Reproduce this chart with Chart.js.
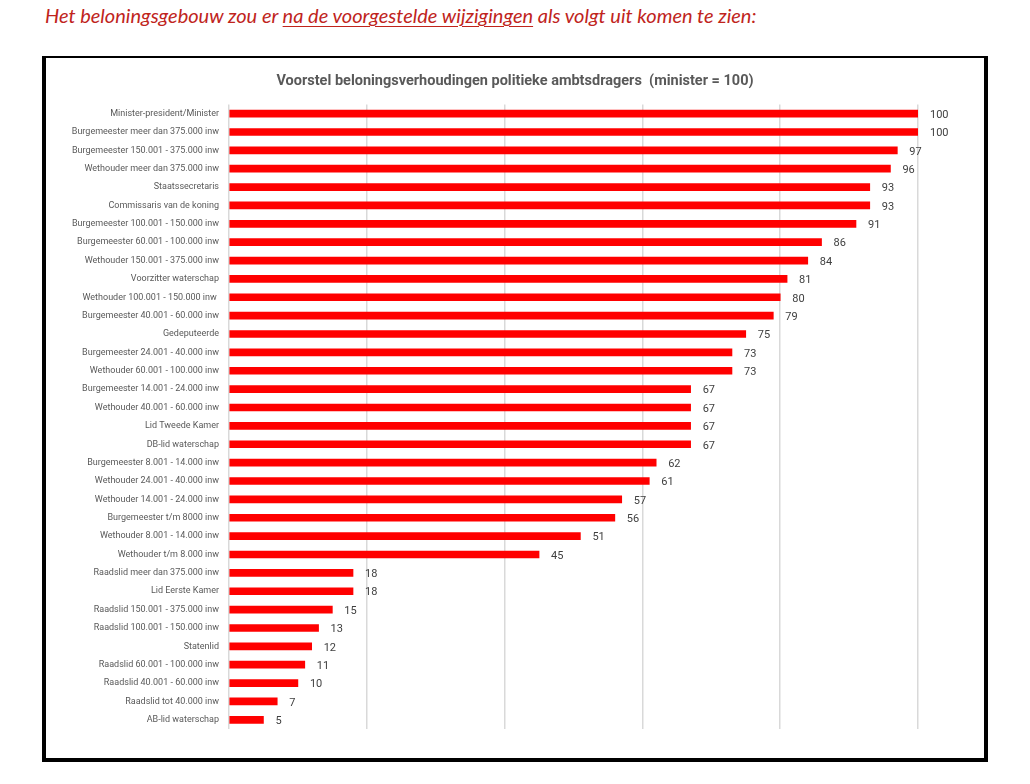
<!DOCTYPE html>
<html>
<head>
<meta charset="utf-8">
<script src="https://cdn.jsdelivr.net/npm/chart.js@4/dist/chart.umd.min.js"></script>
<style>
    html, body { margin: 0; padding: 0; background: #fff; }
    body { width: 1030px; height: 784px; position: relative; overflow: hidden; }
    #intro {
        position: absolute; left: 45px; top: 3px;
        font-family: Lato, sans-serif; font-style: italic; font-size: 20px;
        color: #c0241c; white-space: nowrap;
    }
    #intro u { text-decoration-thickness: 1px; text-underline-offset: 3px; }
    #frame {
        position: absolute; left: 42px; top: 56px; width: 946px; height: 706px;
        box-sizing: border-box; border: solid #000;
        border-width: 2px 4px 4px 4px;
    }
    #chart { position: absolute; left: 0; top: 0; }
</style>
</head>
<body>
<div id="intro">Het beloningsgebouw zou er <u>na de voorgestelde wijzigingen</u> als volgt uit komen te zien:</div>
<div id="frame"></div>
<canvas id="chart" width="1030" height="784"></canvas>
<script>
const chartTitle = "Voorstel beloningsverhoudingen politieke ambtsdragers  (minister = 100)";

const functions = [
    "Minister-president/Minister",
    "Burgemeester meer dan 375.000 inw",
    "Burgemeester 150.001 - 375.000 inw",
    "Wethouder meer dan 375.000 inw",
    "Staatssecretaris",
    "Commissaris van de koning",
    "Burgemeester 100.001 - 150.000 inw",
    "Burgemeester 60.001 - 100.000 inw",
    "Wethouder 150.001 - 375.000 inw",
    "Voorzitter waterschap",
    "Wethouder 100.001 - 150.000 inw ",
    "Burgemeester 40.001 - 60.000 inw",
    "Gedeputeerde",
    "Burgemeester 24.001 - 40.000 inw",
    "Wethouder 60.001 - 100.000 inw",
    "Burgemeester 14.001 - 24.000 inw",
    "Wethouder 40.001 - 60.000 inw",
    "Lid Tweede Kamer",
    "DB-lid waterschap",
    "Burgemeester 8.001 - 14.000 inw",
    "Wethouder 24.001 - 40.000 inw",
    "Wethouder 14.001 - 24.000 inw",
    "Burgemeester t/m 8000 inw",
    "Wethouder 8.001 - 14.000 inw",
    "Wethouder t/m 8.000 inw",
    "Raadslid meer dan 375.000 inw",
    "Lid Eerste Kamer",
    "Raadslid 150.001 - 375.000 inw",
    "Raadslid 100.001 - 150.000 inw",
    "Statenlid",
    "Raadslid 60.001 - 100.000 inw",
    "Raadslid 40.001 - 60.000 inw",
    "Raadslid tot 40.000 inw",
    "AB-lid waterschap"
];

const ratios = [
    100, 100, 97, 96, 93, 93, 91, 86, 84, 81,
    80, 79, 75, 73, 73, 67, 67, 67, 67, 62,
    61, 57, 56, 51, 45, 18, 18, 15, 13, 12,
    11, 10, 7, 5
];

const axisMin = 0;
const axisMax = 100;
const axisStep = 20;

// numbers to the right of each bar
const valueLabels = {
    id: "valueLabels",
    afterDatasetsDraw(chart) {
        const ctx = chart.ctx;
        const meta = chart.getDatasetMeta(0);
        ctx.save();
        ctx.font = "11px Roboto";
        ctx.fillStyle = "#404040";
        ctx.textAlign = "left";
        ctx.textBaseline = "middle";
        meta.data.forEach((bar, i) => {
            ctx.fillText(String(ratios[i]), bar.x + 12, bar.y + 1.5);
        });
        ctx.restore();
    }
};

// centre the title on the black frame instead of on the plot width
const frameTitle = {
    id: "frameTitle",
    afterLayout(chart) {
        const frame = document.getElementById("frame");
        if (!chart.titleBlock) return;
        chart.titleBlock.left = frame.offsetLeft;
        chart.titleBlock.right = frame.offsetLeft + frame.offsetWidth;
    }
};

new Chart(document.getElementById("chart").getContext("2d"), {
    type: "bar",
    data: {
        labels: functions,
        datasets: [{
            data: ratios,
            backgroundColor: "#ff0000",
            borderWidth: 0,
            barThickness: 7
        }]
    },
    options: {
        indexAxis: "y",
        responsive: false,
        animation: false,
        layout: { padding: { top: 60, bottom: 55, left: 0, right: 112 } },
        plugins: {
            legend: { display: false },
            tooltip: { enabled: false },
            title: {
                display: true,
                text: chartTitle,
                color: "#595959",
                font: { family: "Roboto", size: 14.5, weight: "bold" },
                padding: { top: 13, bottom: 14 }
            }
        },
        scales: {
            x: {
                min: axisMin,
                max: axisMax,
                ticks: { display: false, stepSize: axisStep },
                grid: { color: "#d9d9d9", lineWidth: 1.5, drawTicks: false },
                border: { display: false }
            },
            y: {
                afterFit: scale => { scale.width = 229; },
                ticks: {
                    autoSkip: false,
                    padding: 10,
                    color: "#595959",
                    font: { family: "Roboto", size: 9 }
                },
                grid: { display: false, drawTicks: false },
                border: { display: false }
            }
        }
    },
    plugins: [valueLabels, frameTitle]
});
</script>
</body>
</html>
